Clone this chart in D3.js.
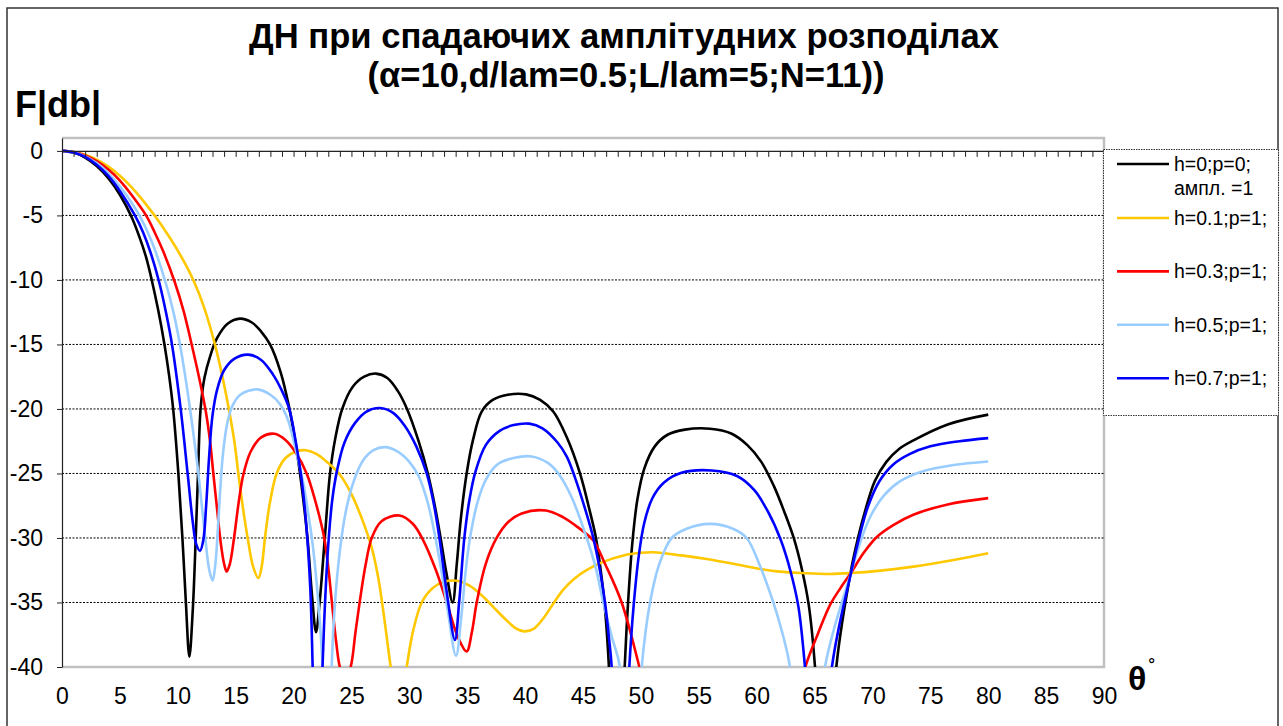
<!DOCTYPE html>
<html><head><meta charset="utf-8">
<script src="https://cdn.jsdelivr.net/npm/d3@7"></script>
<style>
html,body{margin:0;padding:0;background:#fff;}
svg{display:block;font-family:Arial,"Liberation Sans",sans-serif;}
</style></head><body>
<svg id="chart" width="1283" height="726"></svg>
<script>
// ---------- data ----------
const titleLines = ["ДН при спадаючих амплітудних розподілах", "(α=10,d/lam=0.5;L/lam=5;N=11))"];
const yAxisTitle = "F|db|";
const xAxisTitle = "θ";
const xTicks = d3.range(0, 91, 5);
const yTicks = [0, -5, -10, -15, -20, -25, -30, -35, -40];
const seriesNames = [["h=0;p=0;", "ампл. =1"], ["h=0.1;p=1;"], ["h=0.3;p=1;"], ["h=0.5;p=1;"], ["h=0.7;p=1;"]];
const seriesColors = ["#000000", "#FFC800", "#FF0000", "#99CCFF", "#0000FF"];

const sH0 = [[0,0],[1,-0.13],[2,-0.52],[3,-1.18],[4,-2.12],[5,-3.4],[6,-5.1],[6.7,-6.7],[7.25,-8.2],[7.75,-10],[8.3,-12.3],[8.85,-15],[9.25,-17.4],[9.6,-20],[10.05,-25],[10.4,-30],[10.7,-35],[11.0,-39.2],[11.3,-35.5],[11.55,-30],[11.75,-25],[11.97,-20],[12.3,-17.6],[12.8,-15.9],[13.4,-14.5],[14.3,-13.4],[15.37,-13.0],[16.4,-13.3],[17.2,-14.0],[17.97,-15],[18.9,-17.2],[19.6,-19.8],[20.2,-22.8],[20.7,-26],[21.2,-30],[21.6,-34.5],[21.94,-37.3],[22.25,-35],[22.7,-30],[23.15,-25],[23.6,-22.3],[24.2,-20],[25.1,-18.3],[26.1,-17.5],[27.12,-17.26],[28.1,-17.6],[29.0,-18.6],[29.8,-20],[30.8,-22.5],[31.6,-25],[32.2,-27.5],[32.7,-30],[33.2,-32.7],[33.74,-35],[34.1,-32],[34.45,-28.5],[34.95,-25],[35.5,-22.4],[36.25,-20.2],[37.2,-19.3],[38.5,-18.9],[40.08,-18.87],[41.3,-19.3],[42.43,-20.2],[43.6,-22.2],[44.74,-25],[45.5,-27.6],[46.12,-30],[46.6,-33],[46.9,-35.5],[47.24,-40],[47.9,-55],[48.6,-40],[48.86,-35.5],[49.25,-30.5],[49.7,-27],[50.3,-24.6],[51.2,-22.9],[52.3,-22.0],[53.8,-21.6],[55.97,-21.53],[57.8,-21.9],[59.2,-22.8],[60.4,-24.1],[61.5,-26],[62.4,-28],[63.2,-30],[63.9,-32.4],[64.5,-35.2],[65.04,-40],[65.95,-55],[66.88,-40],[68.15,-32.5],[68.75,-30],[69.4,-27.8],[70.2,-25.6],[71.2,-24.1],[72.3,-23.1],[73.5,-22.45],[76.5,-21.2],[80,-20.44]];
const sH01 = [[0,0],[1,-0.08],[2,-0.3],[3,-0.68],[4,-1.22],[5,-1.92],[6,-2.8],[7,-3.85],[8.03,-5.05],[9.0,-6.3],[10.05,-7.8],[11.34,-10],[12.3,-12.2],[13.21,-15],[13.88,-17.6],[14.45,-20.2],[14.9,-22.6],[15.23,-25],[15.65,-27.8],[16.09,-30.3],[16.5,-32.2],[16.96,-33.1],[17.25,-32.2],[17.53,-30],[17.95,-27.3],[18.54,-25],[19.3,-23.8],[20.2,-23.3],[21.07,-23.2],[22.0,-23.5],[23.0,-24.2],[24.01,-25.1],[25.0,-26.6],[25.9,-28.5],[26.7,-30.6],[27.3,-33],[27.8,-36],[28.39,-40],[29.08,-44],[29.77,-40],[30.3,-37.3],[31.07,-35],[32.0,-33.9],[33.0,-33.4],[34.09,-33.31],[35.2,-33.7],[36.2,-34.4],[37.2,-35.3],[38.3,-36.3],[39.2,-37.0],[39.99,-37.24],[40.8,-37.0],[41.6,-36.2],[42.5,-35],[43.3,-34.0],[44.2,-33.2],[45.3,-32.5],[46.75,-31.85],[48.5,-31.35],[50.0,-31.15],[51.07,-31.11],[53.5,-31.35],[55.68,-31.63],[58,-32.0],[60.29,-32.4],[62.01,-32.61],[64,-32.72],[66.33,-32.79],[68.15,-32.72],[70.5,-32.55],[73.53,-32.22],[77,-31.7],[80,-31.18]];
const sH03 = [[0,0],[1,-0.09],[2,-0.35],[3,-0.8],[4,-1.45],[5,-2.3],[6,-3.4],[7.26,-5],[8.0,-6.3],[8.75,-7.8],[9.75,-10.2],[10.5,-12.4],[11.2,-15],[11.85,-17.6],[12.44,-20.3],[12.8,-22.6],[13.07,-25],[13.4,-27.8],[13.7,-30.3],[14.0,-32],[14.22,-32.6],[14.5,-32],[14.86,-30],[15.25,-27.3],[15.66,-25.1],[16.3,-23.3],[17.2,-22.2],[18.34,-21.92],[19.3,-22.4],[20.2,-23.4],[21.13,-25],[21.9,-27.2],[22.65,-30],[23.0,-32.3],[23.29,-34.8],[23.7,-38.2],[24.0,-40],[24.45,-41.0],[24.93,-40],[25.35,-37.3],[25.74,-34.8],[26.2,-32.2],[26.75,-30],[27.6,-28.7],[29.14,-28.26],[30.3,-28.9],[31.21,-30.2],[32.3,-32.5],[33.23,-35],[34.2,-37.7],[34.95,-38.8],[35.4,-37.3],[35.82,-35],[36.6,-32.0],[37.54,-30],[38.5,-28.8],[39.7,-28.1],[41.8,-27.87],[43.3,-28.4],[44.6,-29.2],[45.89,-30.2],[46.9,-32.0],[48.34,-35],[49.87,-40],[51.5,-46],[57,-65],[62.5,-46],[64.2,-40],[65.3,-37.4],[66.33,-35.2],[67.3,-33.8],[68.15,-32.7],[69.2,-31.2],[70.4,-29.9],[71.8,-29.0],[73.53,-28.2],[76.5,-27.4],[80,-26.91]];
const sH05 = [[0,0],[1,-0.1],[2,-0.42],[3,-0.95],[4,-1.72],[5,-2.75],[6,-4.0],[6.74,-5.1],[7.5,-6.5],[8.12,-7.9],[8.95,-10.2],[9.6,-12.4],[10.19,-15],[10.65,-17.5],[11.06,-20],[11.45,-22.6],[11.78,-25],[12.1,-27.7],[12.4,-30.2],[12.7,-32.4],[13.01,-33.3],[13.25,-32],[13.45,-29.5],[13.65,-26.5],[13.9,-23.5],[14.25,-21.2],[14.7,-19.8],[15.4,-18.9],[16.87,-18.48],[18.0,-18.9],[18.8,-19.6],[19.5,-20.8],[20.2,-23.2],[20.85,-25.8],[21.3,-28.3],[21.65,-30.5],[22.14,-35],[22.51,-40],[22.9,-55],[23.29,-40],[23.58,-35],[24.0,-31],[24.5,-28.0],[25.2,-25.6],[26.0,-24.0],[26.9,-23.2],[27.9,-22.96],[29.0,-23.3],[30.0,-24.1],[30.8,-25.2],[31.6,-27.3],[32.22,-29.8],[32.8,-32.7],[33.3,-35.5],[34.03,-39.13],[34.5,-36],[34.85,-32.7],[35.24,-30],[35.9,-27.2],[36.6,-25.5],[37.6,-24.3],[39.0,-23.8],[40.57,-23.68],[42.0,-24.2],[42.87,-25],[44.0,-26.8],[45.32,-30],[46.1,-32.3],[46.75,-35],[47.5,-37.7],[48.19,-40],[49.1,-55],[50.07,-40],[50.79,-35],[51.6,-32.0],[52.66,-30],[53.9,-29.3],[55.97,-28.91],[58.0,-29.3],[59.14,-30],[60.3,-32.2],[61.44,-35],[62.2,-37.3],[62.88,-40],[64.4,-55],[65.9,-40],[68.15,-32.7],[69.07,-30],[69.9,-28.2],[71.0,-26.7],[72.4,-25.6],[74.3,-24.85],[77,-24.35],[80,-24.07]];
const sH07 = [[0,0],[1,-0.12],[2,-0.47],[3,-1.07],[4,-1.93],[5,-3.1],[6.3,-5],[7.0,-6.3],[7.66,-7.9],[8.4,-10.2],[9.0,-12.6],[9.5,-15],[10.25,-20],[10.85,-25],[11.3,-28.8],[11.6,-30.5],[11.92,-31.0],[12.2,-30.2],[12.45,-27.5],[12.7,-23.8],[13.0,-20.5],[13.4,-18.5],[14.0,-17.0],[14.9,-16.1],[16.09,-15.79],[17.2,-16.2],[18.2,-17.3],[19.0,-18.6],[19.63,-20],[20.2,-22.6],[20.7,-25.5],[21.1,-29],[21.45,-34],[21.65,-40],[22.05,-55],[22.5,-40],[22.72,-35],[23.0,-30.5],[23.35,-27],[23.75,-24.8],[24.4,-22.6],[25.3,-21.1],[26.3,-20.2],[27.47,-19.93],[28.6,-20.3],[29.6,-21.3],[30.6,-22.9],[31.5,-25],[32.1,-27.3],[32.6,-30],[33.2,-34],[33.94,-37.9],[34.3,-35],[34.75,-30],[35.2,-27],[35.7,-24.9],[36.6,-22.8],[37.8,-21.7],[39.0,-21.25],[40.36,-21.14],[41.5,-21.5],[42.8,-22.6],[43.6,-23.7],[44.3,-25.3],[45.2,-27.8],[45.89,-30],[46.5,-32.7],[46.9,-35],[47.25,-37.8],[47.48,-40],[48.25,-55],[49.0,-40],[49.35,-35.5],[49.8,-31.5],[50.3,-28.8],[51.0,-26.9],[52.0,-25.7],[53.5,-24.95],[56.11,-24.77],[58.3,-25.2],[59.8,-26.3],[61.0,-28.0],[62.1,-30.2],[62.9,-32.5],[63.6,-35.3],[64.17,-40],[65.3,-55],[66.5,-40],[68.15,-32.7],[68.85,-30],[69.6,-27.6],[70.6,-25.6],[71.8,-24.3],[73.2,-23.5],[75,-22.9],[77.5,-22.5],[80,-22.26]];
const seriesData = [sH0, sH01, sH03, sH05, sH07];

// ---------- layout ----------
const svg = d3.select("#chart");
const L = 62, R = 1104, T = 138, B = 667;
const x = d3.scaleLinear().domain([0, 90]).range([L, R]);
const y = d3.scaleLinear().domain([-40, 1]).range([B, T]);

// outer border
svg.append("rect").attr("x", 7).attr("y", 8).attr("width", 1271).attr("height", 730)
  .attr("fill", "#fff").attr("stroke", "#333").attr("stroke-width", 1.5);

// titles
svg.append("text").attr("x", 624).attr("y", 48).attr("text-anchor", "middle")
  .attr("font-size", 34.6).attr("font-weight", "bold").text(titleLines[0]);
svg.append("text").attr("x", 626).attr("y", 87).attr("text-anchor", "middle")
  .attr("font-size", 34.6).attr("font-weight", "bold").text(titleLines[1]);
svg.append("text").attr("x", 15).attr("y", 117)
  .attr("font-size", 36).attr("font-weight", "bold").text(yAxisTitle);
const th = svg.append("text").attr("x", 1128).attr("y", 690)
  .attr("font-size", 34).attr("font-weight", "bold");
th.append("tspan").text(xAxisTitle);
th.append("tspan").attr("font-size", 22).attr("font-weight", "normal").attr("dx", 2).attr("dy", -14).text("˚");

// plot area border (grey)
svg.append("path").attr("d", `M${L},${T}H${R}V${B}H${L}`).attr("fill", "none")
  .attr("stroke", "#c0c0c0").attr("stroke-width", 2.5);

// gridlines
svg.append("g").selectAll("line").data(yTicks.filter(v => v !== 0 && v !== -40)).join("line")
  .attr("x1", L).attr("x2", R).attr("y1", d => y(d)).attr("y2", d => y(d))
  .attr("stroke", "#000").attr("stroke-width", 1).attr("stroke-dasharray", "2,1.5");

// series
svg.append("clipPath").attr("id", "clip").append("rect")
  .attr("x", L).attr("y", T).attr("width", R - L).attr("height", B - T);
const line = d3.line().x(d => x(d[0])).y(d => y(d[1])).curve(d3.curveCatmullRom.alpha(0.5));
const gLines = svg.append("g").attr("clip-path", "url(#clip)");
seriesData.forEach((s, i) => {
  gLines.append("path").datum(s).attr("d", line).attr("fill", "none")
    .attr("stroke", seriesColors[i]).attr("stroke-width", 2.6).attr("stroke-linejoin", "round");
});

// x axis line at 0 dB with minor ticks
const xTop = svg.append("g").attr("transform", `translate(0,${y(0)})`)
  .call(d3.axisBottom(x).tickValues(d3.range(0, 91, 1)).tickSize(6).tickSizeOuter(0).tickFormat(""));
xTop.select(".domain").attr("stroke", "#222").attr("stroke-width", 1.2);
xTop.selectAll(".tick line").attr("stroke", "#222");

// x labels at bottom
const xBot = svg.append("g").attr("transform", `translate(0,${B})`)
  .call(d3.axisBottom(x).tickValues(xTicks).tickSize(0).tickPadding(21).tickFormat(d => String(d)));
xBot.select(".domain").remove();
xBot.selectAll("text").attr("font-size", 23).attr("font-family", "Arial, 'Liberation Sans', sans-serif").attr("fill", "#000");

// y axis
const yAx = svg.append("g").attr("transform", `translate(${L},0)`)
  .call(d3.axisLeft(y).tickValues(yTicks).tickSize(5).tickSizeOuter(0).tickPadding(14).tickFormat(d => String(d)));
yAx.select(".domain").attr("stroke", "#222").attr("stroke-width", 1.2);
yAx.selectAll(".tick line").attr("stroke", "#222");
yAx.selectAll("text").attr("font-size", 23).attr("font-family", "Arial, 'Liberation Sans', sans-serif").attr("fill", "#000");

// legend
const lg = svg.append("g");
lg.append("rect").attr("x", 1103.5).attr("y", 149.5).attr("width", 175).attr("height", 266)
  .attr("fill", "#fff").attr("stroke", "#333").attr("stroke-width", 1).attr("stroke-dasharray", "1.5,1");
seriesNames.forEach((lab, i) => {
  const cy = i === 0 ? 164 : 218 + (i - 1) * 53.4;
  lg.append("line").attr("x1", 1117).attr("x2", 1169).attr("y1", cy).attr("y2", cy)
    .attr("stroke", seriesColors[i]).attr("stroke-width", 2.6);
  lab.forEach((t, j) => {
    lg.append("text").attr("x", 1174).attr("y", cy + 7 + j * 24).attr("font-size", 19.5).text(t);
  });
});
</script>
</body></html>
